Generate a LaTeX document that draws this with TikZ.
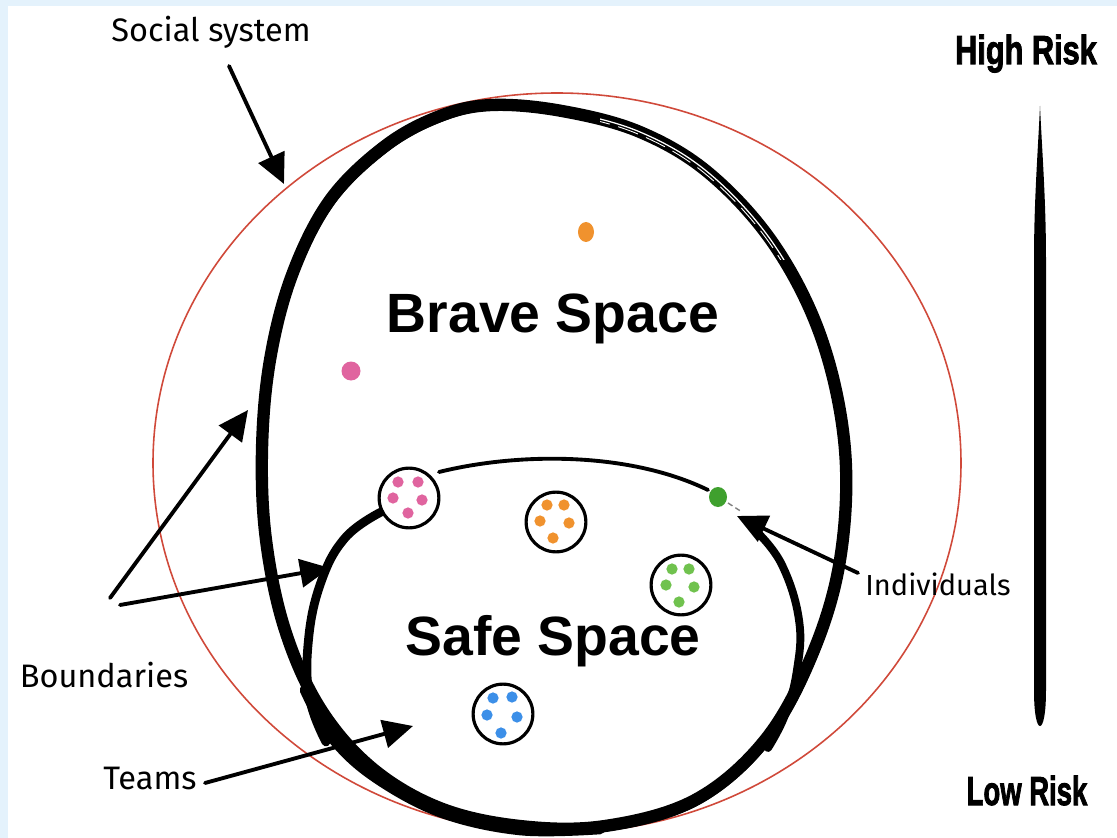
\documentclass[tikz,border=0pt]{standalone}
\usepackage{fontspec}
\setmainfont{Liberation Sans}
\newfontfamily\handfont{Fira Sans}
\newfontfamily\posterfont[BoldFeatures={FakeBold=2.5}]{Liberation Sans}
\usetikzlibrary{arrows.meta}
\definecolor{bgblue}{HTML}{E4F2FC}
\definecolor{ringred}{HTML}{D0493A}
\definecolor{dotpink}{HTML}{E0649F}
\definecolor{dotorange}{HTML}{F0922E}
\definecolor{dotgreen}{HTML}{70C24E}
\definecolor{dotdkgreen}{HTML}{3FA02E}
\definecolor{dotblue}{HTML}{3C8FE8}

\begin{document}
\begin{tikzpicture}[x=0.02cm,y=-0.02cm,
  hand/.style={font=\handfont\fontsize{18.5}{20}\selectfont, inner sep=0, anchor=base},
  title/.style={font=\bfseries\fontsize{31.5}{34}\selectfont, inner sep=0, anchor=base},
  risk/.style={font=\posterfont\bfseries\fontsize{23}{25}\selectfont, inner sep=0, anchor=base},
  pointer/.style={line width=2.2pt, line cap=round, -{Triangle[length=17pt,width=16pt]}},
  team/.style={circle, draw, line width=1.8pt, minimum size=34pt, inner sep=0, fill=white},
  member/.style={circle, inner sep=0, minimum size=6.4pt},
  brush/.style={line width=7pt, line join=round, line cap=round},
]
% frame
\fill[bgblue] (0,0) rectangle (1117,838);
\fill[white] (8,6) rectangle (1117,838);
\useasboundingbox (0,0) rectangle (1117,838);

% social system ring
\draw[ringred, line width=0.9pt] (557,463) ellipse [x radius=404, y radius=370];

% brave space boundary (brush egg)
\def\eggpath{plot[smooth cycle, tension=0.6] coordinates {
 (492,105) (562,111) (640,132) (710,174) (775,246) (822,340) (845,450)
 (840,560) (812,655) (765,740) (695,800) (605,826) (520,826) (440,808)
 (372,768) (320,708) (285,630) (266,540) (262,450) (270,360) (292,275)
 (330,200) (385,146) (440,116)}}
\draw[brush] \eggpath;
\draw[line width=2pt, shift={(-3,2)}] \eggpath;
\draw[line width=1.5pt, shift={(3,4)}] \eggpath;
% heavier brush along the lower left
\draw[line width=6pt, line cap=round] plot[smooth, tension=0.6] coordinates {
 (305,690) (330,735) (372,775) (440,812) (520,830) (600,829)};
% dry-brush streaks in the upper right
\begin{scope}
  \clip (600,110) rectangle (800,260);
  \draw[white, line width=0.7pt] \eggpath;
  \draw[white, line width=0.5pt, shift={(-2,2)}, dash pattern=on 12pt off 5pt] \eggpath;
\end{scope}

% safe space boundary
\draw[line width=2.2pt, line cap=round] (439,472) .. controls (520,452) and (630,452) .. (708,490);
\draw[gray, line width=0.8pt, dash pattern=on 3pt off 2pt] (728,503) -- (742,512);
\draw[line width=4.5pt, line cap=round] plot[smooth, tension=0.7] coordinates {
 (757,532) (782,565) (799,620) (797,670) (785,715) (768,748)};
\draw[line width=5pt, line cap=round] plot[smooth, tension=0.7] coordinates {
 (383,511) (345,538) (320,585) (308,645) (310,700) (326,742)};

% teams
\node[team] (tpink) at (409,498) {};
\foreach \p in {(398,482),(418,482),(393,498),(422,500),(408,513)}
  \node[member, fill=dotpink] at \p {};
\node[team] (torange) at (556,522) {};
\foreach \p in {(547,505),(564,505),(540,521),(569,523),(553,538)}
  \node[member, fill=dotorange] at \p {};
\node[team] (tgreen) at (681,585) {};
\foreach \p in {(672,569),(689,569),(666,585),(694,587),(679,602)}
  \node[member, fill=dotgreen] at \p {};
\node[team] (tblue) at (503,714) {};
\foreach \p in {(493,698),(512,697),(487,715),(517,717),(501,733)}
  \node[member, fill=dotblue] at \p {};

% individuals
\fill[dotorange] (586,232) ellipse [x radius=8, y radius=10];
\fill[dotpink] (351,371) ellipse [x radius=9.5, y radius=9.5];
\fill[dotdkgreen] (718,497) ellipse [x radius=9, y radius=10];

% risk scale
\fill (1040,106) .. controls (1042,150) and (1046,200) .. (1046,260) -- (1046,690)
  .. controls (1046,715) and (1043,726) .. (1040,726)
  .. controls (1037,726) and (1034,715) .. (1034,690) -- (1034,260)
  .. controls (1034,200) and (1038,150) .. (1040,106) -- cycle;

% labels
\node[hand] (social) at (211,42) {Social system};
\node[hand] (bound) at (104,687) {Boundaries};
\node[hand] (teams) at (150,789) {Teams};
\node[hand, font=\handfont\fontsize{16.5}{18}\selectfont] (indiv) at (938,595) {Individuals};
\node[title] (brave) at (553,333) {Brave Space};
\node[title] (safe) at (553,655) {Safe Space};
\node[risk] (high) at (1026,64) {\scalebox{0.76}[1]{High Risk}};
\node[risk] (low) at (1027,805) {\scalebox{0.68}[1]{Low Risk}};

% pointers
\coordinate (socialtail) at (229,66);
\coordinate (socialtip) at (284,184);
\coordinate (bndAtail) at (110,598);
\coordinate (bndAtip) at (248,410);
\coordinate (bndBtail) at (120,605);
\coordinate (bndBtip) at (330,568);
\coordinate (teamtail) at (205,783);
\coordinate (teamtip) at (413,726);
\coordinate (indtail) at (858,573);
\coordinate (indtip) at (737,516);
\draw[pointer] (socialtail) -- (socialtip);
\draw[pointer] (bndAtail) -- (bndAtip);
\draw[pointer] (bndBtail) -- (bndBtip);
\draw[pointer] (teamtail) -- (teamtip);
\draw[pointer] (indtail) -- (indtip);
\end{tikzpicture}
\end{document}
